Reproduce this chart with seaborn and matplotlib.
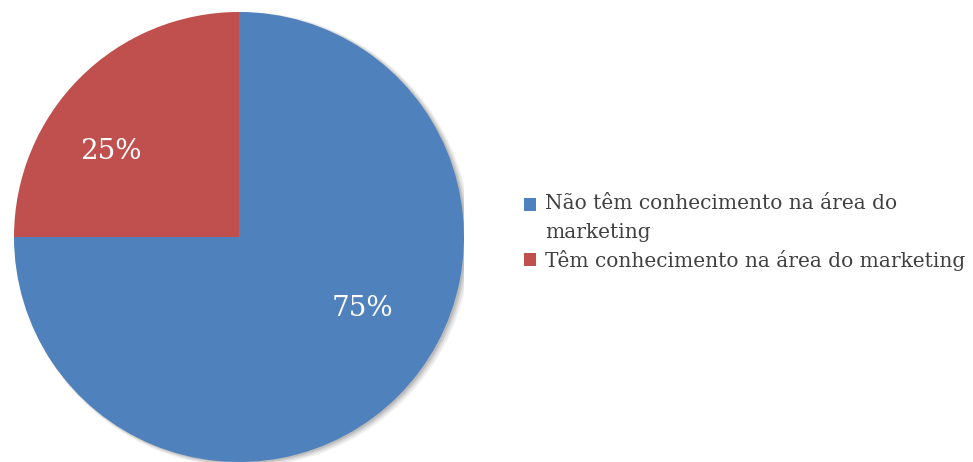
import matplotlib
matplotlib.use("Agg")
import matplotlib.pyplot as plt
import seaborn as sns
from matplotlib.patches import Circle, Patch

categories = ["Não têm conhecimento na área do\nmarketing", "Têm conhecimento na área do marketing"]
values = [75, 25]
colors = ["#4F81BD", "#C0504D"]

sns.set_theme(style="white")
plt.rcParams['font.family'] = ['DejaVu Serif', 'DejaVu Sans']

W, H = 973, 462
fig = plt.figure(figsize=(W / 100, H / 100), dpi=100)
ax = fig.add_axes([14 / W, 0 / H, 450 / W, 450 / H])

# soft shadow
for i, a in enumerate([0.05, 0.06, 0.08, 0.10]):
    off = 0.018 - i * 0.003
    ax.add_patch(Circle((off, -off * 0.6), 1.0 + 0.004 * (3 - i), color="black", alpha=a, lw=0, zorder=0))

wedges, texts, autotexts = ax.pie(
    values, colors=colors, startangle=90, counterclock=False, radius=1.0,
    autopct=lambda p: f"{p:.0f}%", pctdistance=0.65,
    wedgeprops=dict(linewidth=0), textprops=dict(color="white", fontsize=20),
)
ax.set_xlim(-1, 1)
ax.set_ylim(-1, 1)
ax.set_aspect("equal")
ax.axis("off")
for w in wedges:
    w.set_zorder(2)
autotexts[0].set_position((0.55, -0.32))
autotexts[1].set_position((-0.57, 0.38))
for t in autotexts:
    t.set_zorder(3)

handles = [Patch(facecolor=c, edgecolor="none") for c in colors]
leg = fig.legend(handles, categories, loc="upper left", bbox_to_anchor=(524 / W, 1 - 194 / H),
                 frameon=False, fontsize=14.5, handlelength=0.6, handleheight=0.6,
                 handletextpad=0.45, labelspacing=0.4, borderaxespad=0, borderpad=0)
for t in leg.get_texts():
    t.set_color("#404040")
    t.set_linespacing(1.65)
# align first handle with the first line of its two-line label
h0 = leg.legend_handles[0]
h0.set_y(h0.get_y() + 10)

fig.savefig("out.png", dpi=100)
